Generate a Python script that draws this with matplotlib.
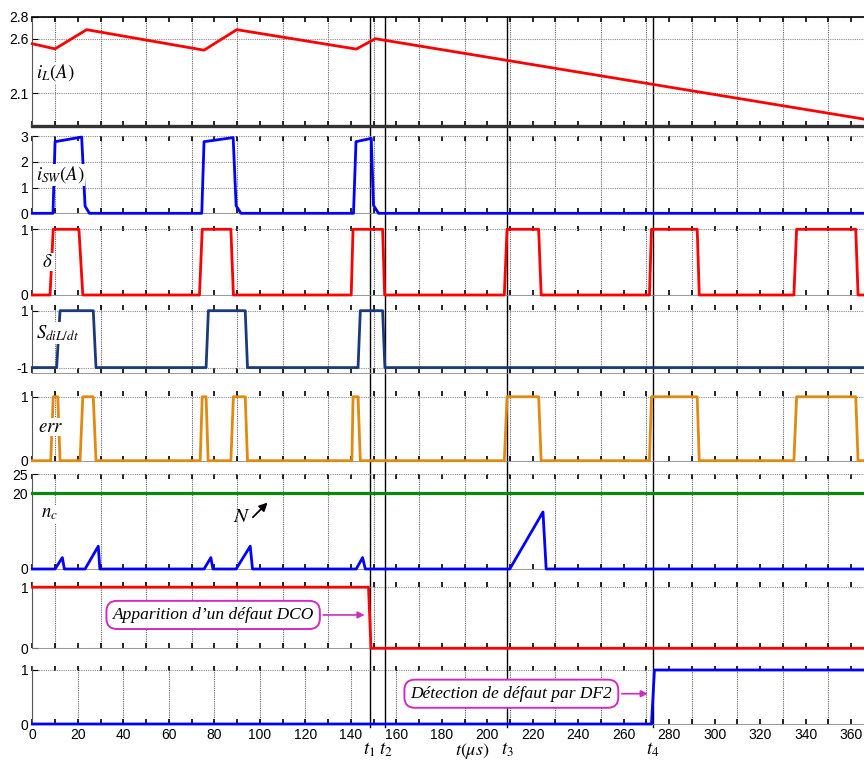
import matplotlib
matplotlib.use("Agg")
import matplotlib.pyplot as plt
from matplotlib.lines import Line2D
from matplotlib.transforms import blended_transform_factory as btf

plt.rcParams['font.family'] = ['Liberation Sans', 'DejaVu Sans']
plt.rcParams['mathtext.fontset'] = 'stix'

# ---------------- data (time in microseconds) ----------------
iL_t = [0, 10.0, 23.9, 75.5, 89.9, 142.4, 150.8, 366]
iL_v = [2.554, 2.507, 2.683, 2.495, 2.683, 2.505, 2.600, 1.862]

iSW_t = [0, 9.1, 10.0, 21.7, 23.2, 25.1, 74.5, 75.5, 88.3, 89.6, 91.7,
         141.2, 142.3, 149.0, 150.0, 152.2, 366]
iSW_v = [0, 0, 2.79, 2.97, 0.28, 0, 0, 2.79, 2.95, 0.30, 0,
         0, 2.79, 2.92, 0.31, 0, 0]

delta_t = [0, 7.8, 9.2, 20.5, 22.2, 73.5, 74.7, 87.3, 88.4, 140.2, 141.0, 154.0, 154.9,
           207.5, 208.7, 222.6, 223.7, 271.3, 272.2, 292.3, 293.2, 334.8, 336.0, 362.0, 363.0, 366]
delta_v = [0, 0, 1, 1, 0, 0, 1, 1, 0, 0, 1, 1, 0,
           0, 1, 1, 0, 0, 1, 1, 0, 0, 1, 1, 0, 0]

S_t = [0, 10.7, 12.2, 26.8, 28.0, 76.4, 77.4, 93.6, 94.6, 143.2, 144.2, 154.0, 155.0, 366]
S_v = [-1, -1, 1, 1, -1, -1, 1, 1, -1, -1, 1, 1, -1, -1]

err_t = [0, 8.1, 9.2, 11.2, 12.2, 21.0, 22.2, 26.8, 28.0, 73.8, 74.7, 76.4, 77.3,
         87.3, 88.4, 93.6, 94.6, 140.5, 141.0, 143.2, 144.2,
         207.5, 208.7, 222.6, 223.7, 271.3, 272.2, 292.3, 293.2, 334.8, 336.0, 362.0, 363.0, 366]
err_v = [0, 0, 1, 1, 0, 0, 1, 1, 0, 0, 1, 1, 0,
         0, 1, 1, 0, 0, 1, 1, 0,
         0, 1, 1, 0, 0, 1, 1, 0, 0, 1, 1, 0, 0]

nc_t = [0, 10.0, 13.2, 14.1, 23.2, 29.0, 29.7, 75.5, 78.5, 79.4, 89.6, 95.8, 96.8,
        142.4, 145.2, 146.4, 209.9, 224.5, 225.9, 366]
nc_v = [0, 0, 3, 0, 0, 6, 0, 0, 3, 0, 0, 6, 0, 0, 3, 0, 0, 15, 0, 0]
N_t = [0, 366]
N_v = [20, 20]

dco_t = [0, 147.8, 148.9, 366]
dco_v = [1, 1, 0, 0]

df2_t = [0, 272.2, 273.5, 366]
df2_v = [0, 0, 1, 1]

event_t = [148.3, 155.2, 208.7, 272.8]
event_lbl = [r'$t_1$', r'$t_2$', r'$t_3$', r'$t_4$']

xtick_vals = list(range(0, 361, 20))

# ---------------- layout ----------------
W, H = 864, 764
X0 = 32.3
fig = plt.figure(figsize=(W / 100, H / 100), dpi=100)

panels = [(16.9, 126), (136.3, 213.3), (226, 295), (305, 372.7),
          (391, 460.7), (474, 569), (581.7, 648.3), (666, 724)]
ylims = [(1.8, 2.8), (0, 3), (0, 1.05), (-1.18, 1.2), (0, 1.09), (0, 25), (0, 1.09), (0, 1.074)]
yticks = [[2.1, 2.6, 2.8], [0, 1, 2, 3], [0, 1], [-1, 1], [0, 1], [0, 20, 25], [0, 1], [0, 1]]

RED = '#FF0000'
BLUE = '#0000FF'
NAVY = '#1B3A7A'
ORANGE = '#E2890F'
GREEN = '#0A8A0A'
MAG = '#D02CC0'
LW = 2.0
TFS = 10

axes = []
for i, (top, bot) in enumerate(panels):
    ax = fig.add_axes([X0 / W, 1 - bot / H, (W - X0) / W + 0.001, (bot - top) / H])
    ax.set_facecolor('none')
    ax.set_xlim(0, 366)
    ax.set_ylim(*ylims[i])
    ax.set_yticks(yticks[i])
    ax.set_yticklabels([('%g' % v) for v in yticks[i]], fontsize=TFS)
    if i < 7:
        ax.set_xticks(list(range(10, 366, 20)))
        ax.set_xticks(list(range(0, 366, 20)), minor=True)
        ax.tick_params(axis='x', which='both', labelbottom=False)
        ax.grid(True, axis='x', which='major', color='#606060', linestyle=(0, (1, 1)), linewidth=0.8)
    else:
        ax.set_xticks(xtick_vals)
        ax.set_xticks(list(range(10, 366, 20)), minor=True)
        ax.tick_params(axis='x', which='major', labelsize=TFS, pad=3)
        for gx in list(range(20, 161, 20)) + list(range(190, 366, 20)):
            ax.axvline(gx, color='#606060', linestyle=(0, (1, 1)), linewidth=0.8, zorder=0.5)
    ax.grid(True, axis='y', color='#8a8a8a', linestyle=(0, (1, 1)), linewidth=0.8)
    ax.tick_params(axis='x', which='both', direction='in', top=True, bottom=True,
                   length=3.5, width=1.2, color='black')
    ax.tick_params(axis='y', direction='in', length=4, width=0.8, pad=3, left=True, right=False)
    ax.spines['right'].set_visible(False)
    ax.spines['left'].set_color('#555555')
    ax.spines['left'].set_linewidth(0.8)
    ax.spines['bottom'].set_color('#888888')
    ax.spines['bottom'].set_linewidth(0.6)
    if i == 0:
        ax.spines['top'].set_color('black')
        ax.spines['top'].set_linewidth(1.2)
        ax.spines['bottom'].set_color('#333333')
        ax.spines['bottom'].set_linewidth(2.4)
    else:
        ax.spines['top'].set_visible(False)
    axes.append(ax)

a1, a2, a3, a4, a5, a6, a7, a8 = axes

a1.plot(iL_t, iL_v, color=RED, lw=LW, clip_on=False, zorder=3)
a2.plot(iSW_t, iSW_v, color=BLUE, lw=LW, clip_on=False, zorder=3)
a3.plot(delta_t, delta_v, color=RED, lw=LW, clip_on=False, zorder=3)
a4.plot(S_t, S_v, color=NAVY, lw=LW, clip_on=False, zorder=3)
a5.plot(err_t, err_v, color=ORANGE, lw=LW, clip_on=False, zorder=3)
a6.plot(N_t, N_v, color=GREEN, lw=LW + 0.3, clip_on=False, zorder=3)
a6.plot(nc_t, nc_v, color=BLUE, lw=LW, clip_on=False, zorder=3)
a7.plot(dco_t, dco_v, color=RED, lw=LW, clip_on=False, zorder=3)
a8.plot(df2_t, df2_v, color=BLUE, lw=LW, clip_on=False, zorder=3)

# signal labels
lbl_kw = dict(fontsize=13.5, ha='left', va='center', zorder=5,
              bbox=dict(facecolor='white', edgecolor='none', pad=0.5))
a1.text(0.005, 0.486, r'$i_L(A)$', transform=a1.transAxes, **lbl_kw)
a2.text(0.004, 0.497, r'$i_{SW}(A)$', transform=a2.transAxes, **lbl_kw)
a3.text(0.012, 0.478, r'$\delta$', transform=a3.transAxes, **lbl_kw)
a4.text(0.004, 0.586, r'$S_{diL/dt}$', transform=a4.transAxes, **lbl_kw)
a5.text(0.007, 0.483, r'$err$', transform=a5.transAxes, **lbl_kw)
a6.text(0.011, 0.579, r'$n_c$', transform=a6.transAxes, **lbl_kw)

a6.text(92.3, 13.7, r'$N$', fontsize=15, ha='center', va='center', zorder=5)
a6.annotate('', xy=(104.3, 18.0), xytext=(96.1, 13.1),
            arrowprops=dict(arrowstyle='-|>', color='black', lw=1.3, mutation_scale=12))

# event lines across all panels
tr = btf(a8.transData, fig.transFigure)
for t in event_t:
    fig.add_artist(Line2D([t, t], [1 - 16.5 / H, 1 - 727 / H], transform=tr,
                          color='black', lw=1.0, zorder=-1))
for t, s in zip(event_t, event_lbl):
    fig.text(t, 1 - 750 / H, s, transform=tr, ha='center', va='center', fontsize=13.5)
fig.text(193.5, 1 - 751 / H, r'$t(\mu s)$', transform=tr, ha='center', va='center', fontsize=13)

# annotation boxes
box_kw = dict(boxstyle='round,pad=0.35,rounding_size=0.6', facecolor='white', edgecolor=MAG, lw=1.4)
a7.annotate("Apparition d\u2019un d\u00e9faut DCO", xy=(147.3, 0.546), xytext=(79.5, 0.546),
            xycoords='data', textcoords='data', ha='center', va='center',
            fontsize=12.5, family='Liberation Serif', style='italic', zorder=6,
            bbox=box_kw,
            arrowprops=dict(arrowstyle='-|>', color=MAG, lw=1.2, mutation_scale=10))
a8.annotate("D\u00e9tection de d\u00e9faut par DF2", xy=(271.8, 0.561), xytext=(210.6, 0.561),
            xycoords='data', textcoords='data', ha='center', va='center',
            fontsize=12.5, family='Liberation Serif', style='italic', zorder=6,
            bbox=box_kw,
            arrowprops=dict(arrowstyle='-|>', color=MAG, lw=1.2, mutation_scale=10))

fig.savefig('out.png', dpi=100)
